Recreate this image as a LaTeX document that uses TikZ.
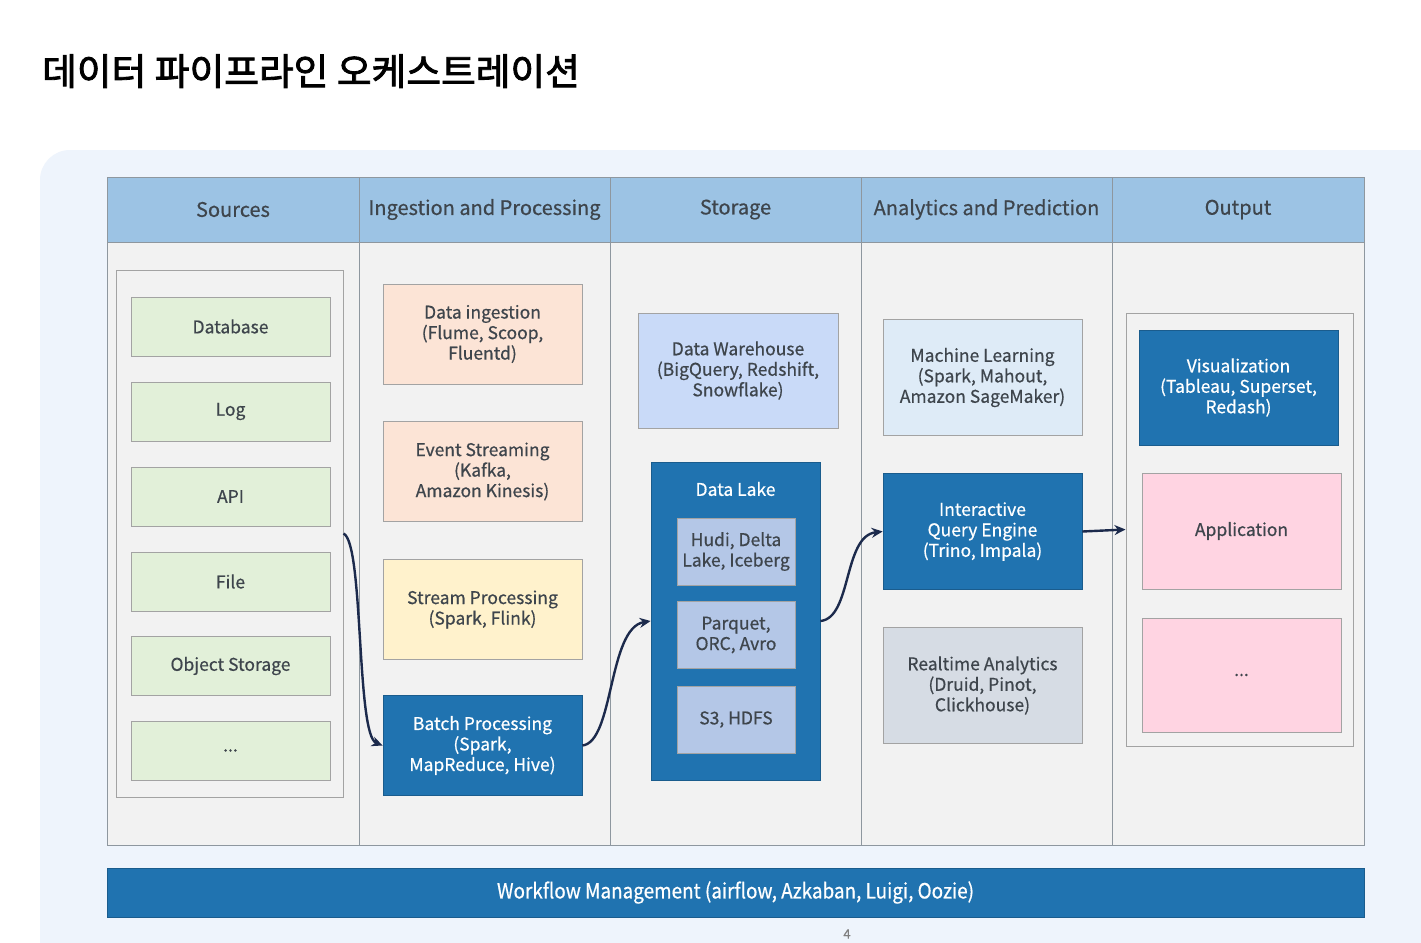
\documentclass[tikz,border=0pt]{standalone}
\usepackage{fontspec}
\setmainfont{Noto Sans CJK KR}[UprightFeatures={FakeBold=0.6}]
\newfontfamily\titlefont{Noto Sans CJK KR}[UprightFeatures={FakeBold=2.2}]
\usetikzlibrary{arrows.meta}
\definecolor{panelbg}{HTML}{EEF4FC}
\definecolor{hdrfill}{HTML}{9CC3E4}
\definecolor{bodyfill}{HTML}{F2F2F2}
\definecolor{gridline}{HTML}{8E979F}
\definecolor{boxline}{HTML}{A3A3A3}
\definecolor{darkblue}{HTML}{2073B0}
\definecolor{greenfill}{HTML}{E2F0D9}
\definecolor{peach}{HTML}{FCE4D6}
\definecolor{cream}{HTML}{FFF2CC}
\definecolor{dwfill}{HTML}{C9DAF8}
\definecolor{lakeinner}{HTML}{B4C7E7}
\definecolor{mlfill}{HTML}{DEEBF7}
\definecolor{rtfill}{HTML}{D6DCE4}
\definecolor{pinkfill}{HTML}{FFD4E2}
\definecolor{txtdark}{HTML}{3E454C}
\definecolor{arrowcol}{HTML}{1C2A4C}
\tikzset{
  hdr/.style={draw=gridline, line width=1pt, fill=hdrfill, minimum height=65pt, inner sep=0pt,
    text=txtdark, font=\fontsize{20}{24}\selectfont},
  bodycell/.style={draw=gridline, line width=1pt, fill=bodyfill, minimum height=603pt, inner sep=0pt},
  lbox/.style={draw=boxline, line width=1pt, align=center, inner sep=0pt, text=txtdark,
    font=\fontsize{17.5}{20.5}\selectfont},
  dbox/.style={draw=darkblue!80!black, line width=0.8pt, fill=darkblue, align=center, inner sep=0pt,
    text=white, font=\fontsize{17.5}{20.5}\selectfont},
  container/.style={draw=boxline, line width=1pt, fill=bodyfill, inner sep=0pt},
  arr/.style={draw=arrowcol, line width=2.4pt, -{Stealth[length=11pt,width=10pt]}},
}
\begin{document}
\begin{tikzpicture}[x=1pt,y=-1pt]
\useasboundingbox (0,0) rectangle (1421,942);
\fill[white] (0,0) rectangle (1421,942);
\begin{scope}
\clip (0,0) rectangle (1421,942);
\fill[panelbg, rounded corners=30pt] (40,150) rectangle (1470,990);
\end{scope}

% title
\node[anchor=base west, inner sep=0pt, font=\titlefont\fontsize{37}{40}\selectfont, text=black] (title) at (42,85)
  {\scalebox{1.02}[1]{데이터 파이프라인 오케스트레이션}};

% table header
\node[hdr, minimum width=252pt] (h1) at (233,209.5) {Sources};
\node[hdr, minimum width=251pt] (h2) at (484.5,209.5) {Ingestion and Processing};
\node[hdr, minimum width=251pt] (h3) at (735.5,209.5) {Storage};
\node[hdr, minimum width=251pt] (h4) at (986.5,209.5) {Analytics and Prediction};
\node[hdr, minimum width=252pt] (h5) at (1238,209.5) {Output};
% table body
\node[bodycell, minimum width=252pt] (b1) at (233,543.5) {};
\node[bodycell, minimum width=251pt] (b2) at (484.5,543.5) {};
\node[bodycell, minimum width=251pt] (b3) at (735.5,543.5) {};
\node[bodycell, minimum width=251pt] (b4) at (986.5,543.5) {};
\node[bodycell, minimum width=252pt] (b5) at (1238,543.5) {};

% sources
\node[container, minimum width=227pt, minimum height=527pt] (src) at (229.5,533.5) {};
\node[lbox, fill=greenfill, minimum width=199pt, minimum height=59pt] (db) at (230.5,326.5) {Database};
\node[lbox, fill=greenfill, minimum width=199pt, minimum height=59pt] (log) at (230.5,411.5) {Log};
\node[lbox, fill=greenfill, minimum width=199pt, minimum height=59pt] (api) at (230.5,496.5) {API};
\node[lbox, fill=greenfill, minimum width=199pt, minimum height=59pt] (file) at (230.5,581.5) {File};
\node[lbox, fill=greenfill, minimum width=199pt, minimum height=59pt] (obj) at (230.5,666) {Object Storage};
\node[lbox, fill=greenfill, minimum width=199pt, minimum height=59pt] (srcmore) at (230.5,750.5) {...};

% ingestion and processing
\node[lbox, fill=peach, minimum width=199pt, minimum height=100pt] (ing) at (482.5,334) {Data ingestion\\(Flume, Scoop,\\Fluentd)};
\node[lbox, fill=peach, minimum width=199pt, minimum height=100pt] (evt) at (482.5,471.5) {Event Streaming\\(Kafka,\\Amazon Kinesis)};
\node[lbox, fill=cream, minimum width=199pt, minimum height=100pt] (strm) at (482.5,609.5) {Stream Processing\\(Spark, Flink)};
\node[dbox, minimum width=199pt, minimum height=100pt] (batch) at (482.5,745.5) {Batch Processing\\(Spark,\\MapReduce, Hive)};

% storage
\node[lbox, fill=dwfill, minimum width=200pt, minimum height=115pt] (dw) at (738,370.5) {Data Warehouse\\(BigQuery, Redshift,\\Snowflake)};
\node[dbox, minimum width=169pt, minimum height=318pt] (dl) at (735.5,621) {};
\node[inner sep=0pt, text=white, font=\fontsize{17.5}{20.5}\selectfont] (dllabel) at (735.5,489) {Data Lake};
\node[lbox, fill=lakeinner, minimum width=118pt, minimum height=67pt] (hudi) at (736,551.5) {Hudi, Delta\\Lake, Iceberg};
\node[lbox, fill=lakeinner, minimum width=118pt, minimum height=67pt] (parq) at (736,635) {Parquet,\\ORC, Avro};
\node[lbox, fill=lakeinner, minimum width=118pt, minimum height=67pt] (s3) at (736,719.5) {S3, HDFS};

% analytics
\node[lbox, fill=mlfill, minimum width=199pt, minimum height=116pt] (ml) at (982.5,377.5) {Machine Learning\\(Spark, Mahout,\\Amazon SageMaker)};
\node[dbox, minimum width=199pt, minimum height=116pt] (iqe) at (982.5,531.5) {Interactive\\Query Engine\\(Trino, Impala)};
\node[lbox, fill=rtfill, minimum width=199pt, minimum height=116pt] (rt) at (982.5,685.5) {Realtime Analytics\\(Druid, Pinot,\\Clickhouse)};

% output
\node[container, minimum width=227pt, minimum height=433pt] (outbox) at (1239.5,529.5) {};
\node[dbox, minimum width=199pt, minimum height=115pt] (vis) at (1238.5,387.5) {Visualization\\(Tableau, Superset,\\Redash)};
\node[lbox, fill=pinkfill, minimum width=199pt, minimum height=116pt] (app) at (1241.5,531) {Application};
\node[lbox, fill=pinkfill, minimum width=199pt, minimum height=114pt] (outmore) at (1241.5,675) {...};

% workflow bar
\node[dbox, minimum width=1257pt, minimum height=49pt, font=\fontsize{21}{24}\selectfont] (wf) at (735.5,892.5)
  {\scalebox{0.9}[1]{Workflow Management (airflow, Azkaban, Luigi, Oozie)}};
\node[inner sep=0pt, text=gray, font=\fontsize{13}{15}\selectfont] (pg) at (847,934) {4};

% connectors
\draw[arr] (src.east) .. controls (364,543) and (356,735) .. (batch.west);
\draw[arr] (batch.east) .. controls (614,742) and (608,628) .. (dl.west);
\draw[arr] (dl.east) .. controls (852,618) and (843,536) .. (iqe.west);
\draw[arr] (iqe.east) -- (outbox.west);
\end{tikzpicture}
\end{document}
